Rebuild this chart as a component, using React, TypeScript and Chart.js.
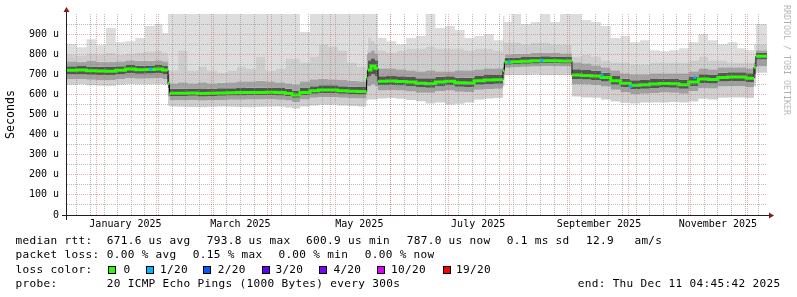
import React, { useEffect, useRef } from 'react';
import { Chart, registerables } from 'chart.js';

Chart.register(...registerables);

// ---------------- data (days since 2025-01-01, values in microseconds) ----------------
const rangeStart = -15;
const rangeEnd = 344.2;

const binStart = [
  -15, -10, -5, 0, 5, 10, 15, 20, 25, 30, 34, 36.8,
  37.6, 42, 47, 52, 57, 62, 67, 72, 77, 82, 87, 92, 97, 100.5, 104.5, 109.7, 114, 119, 124, 129, 134,
  138.7, 139.3, 141, 143,
  144.6, 149, 154, 159, 164, 169, 174, 179, 184, 189, 194, 199, 204,
  208.7, 209.5, 213, 218, 223, 228, 233, 238,
  244.1, 249, 254, 259, 264, 269, 274, 279, 284, 289, 294, 299, 304, 309, 314, 319, 324, 329, 333.5,
  337.5, 338.5,
];

const medianRtt = [
  720, 721, 718, 716, 715, 720, 726, 723, 724, 726, 721, 655,
  606, 606, 607, 605, 606, 607, 608, 609, 610, 610, 611, 609, 605, 597, 610, 618, 622, 622, 618, 616, 615,
  680, 722, 741, 730,
  665, 667, 664, 662, 655, 653, 662, 665, 658, 657, 668, 672, 673,
  718, 760, 763, 765, 767, 768, 768, 766,
  696, 694, 692, 684, 668, 655, 646, 648, 652, 654, 653, 648, 662, 676, 674, 684, 686, 686, 680,
  735, 790,
];

const smokeMax = [
  850, 835, 875, 845, 930, 860, 865, 880, 940, 950, 905, 1050,
  1050, 1050, 1050, 1050, 1050, 1050, 1050, 1050, 1050, 1050, 1050, 1050, 1050, 1050, 910, 1050, 1050, 1050, 1050, 1050, 1050,
  1050, 1050, 1050, 1050,
  880, 865, 850, 880, 890, 1000, 930, 940, 920, 880, 890, 900, 870,
  990, 960, 1050, 950, 960, 1050, 960, 1010,
  1000, 970, 960, 940, 880, 890, 860, 870, 820, 815, 820, 830, 860, 900, 870, 850, 860, 830, 820,
  850, 950,
];

const smokeHi3 = [
  800, 795, 805, 800, 810, 800, 805, 810, 815, 820, 810, 780,
  720, 820, 720, 740, 720, 710, 720, 740, 730, 790, 720, 730, 780, 780, 760, 790, 850, 840, 820, 760, 740,
  820, 880, 870, 850,
  820, 810, 820, 830, 830, 840, 830, 830, 830, 820, 830, 830, 820,
  880, 860, 860, 850, 860, 860, 850, 850,
  790, 800, 790, 770, 760, 760, 750, 750, 760, 760, 760, 760, 770, 790, 770, 770, 760, 760, 760,
  780, 850,
];

const smokeHi2 = [
  765, 763, 766, 762, 764, 765, 770, 768, 768, 770, 765, 720,
  655, 660, 655, 660, 655, 658, 660, 665, 665, 668, 665, 660, 655, 650, 665, 675, 678, 675, 672, 668, 665,
  800, 810, 820, 805,
  730, 730, 725, 720, 715, 720, 715, 715, 720, 720, 725, 730, 730,
  760, 800, 802, 804, 806, 808, 806, 805,
  760, 755, 745, 735, 720, 705, 700, 700, 705, 705, 705, 705, 715, 730, 725, 735, 735, 735, 730,
  760, 820,
];

const smokeHi1 = [
  740, 741, 739, 737, 736, 740, 746, 743, 744, 746, 741, 700,
  628, 628, 629, 627, 628, 630, 631, 632, 633, 633, 634, 632, 628, 620, 632, 640, 645, 645, 640, 638, 637,
  720, 770, 780, 770,
  690, 692, 690, 686, 680, 680, 688, 690, 684, 683, 694, 697, 698,
  735, 782, 784, 786, 788, 790, 789, 788,
  725, 722, 718, 708, 692, 678, 670, 672, 676, 678, 677, 674, 686, 700, 698, 708, 710, 710, 705,
  745, 808,
];

const smokeLo1 = [
  700, 701, 698, 696, 695, 700, 706, 703, 704, 706, 701, 630,
  592, 592, 593, 590, 592, 593, 594, 595, 596, 596, 597, 595, 591, 583, 596, 603, 607, 607, 603, 601, 600,
  650, 690, 700, 690,
  645, 647, 644, 642, 635, 633, 642, 645, 638, 637, 648, 652, 653,
  700, 748, 750, 752, 754, 756, 755, 754,
  676, 674, 672, 664, 648, 635, 626, 628, 632, 634, 633, 628, 642, 656, 654, 664, 666, 666, 660,
  700, 774,
];

const smokeLo2 = [
  675, 676, 673, 671, 670, 675, 681, 678, 679, 681, 676, 590,
  571, 571, 572, 570, 571, 572, 573, 574, 575, 575, 576, 574, 570, 562, 575, 583, 587, 587, 583, 581, 580,
  610, 640, 650, 640,
  620, 622, 619, 615, 608, 608, 617, 620, 613, 612, 623, 627, 628,
  680, 733, 735, 737, 739, 741, 740, 739,
  651, 649, 647, 639, 623, 610, 601, 603, 607, 609, 608, 603, 617, 631, 629, 639, 641, 641, 635,
  680, 740,
];

const smokeMin = [
  648, 650, 645, 644, 643, 648, 652, 650, 650, 652, 648, 545,
  540, 538, 537, 536, 538, 540, 538, 537, 536, 538, 540, 540, 535, 530, 540, 545, 548, 548, 545, 542, 540,
  570, 575, 575, 575,
  580, 582, 578, 572, 566, 555, 560, 550, 553, 560, 575, 580, 582,
  640, 695, 697, 697, 699, 697, 697, 697,
  590, 585, 583, 575, 565, 558, 555, 560, 560, 560, 562, 560, 565, 578, 575, 583, 585, 585, 582,
  640, 708,
];

// samples with 1/20 loss
const lossDays = [27.95, 211.8, 228.6, 259.5, 274.3, 307.1];
const lossRtt = [726, 761, 768, 696, 640, 685];

// axis ticks
const monthStarts = [0, 31, 59, 90, 120, 151, 181, 212, 243, 273, 304, 334];
const weekStarts = [
  -10, -3, 4, 11, 18, 25, 32, 39, 46, 53, 60, 67, 74, 81, 88, 95, 102, 109, 116, 123, 130, 137, 144,
  151, 158, 165, 172, 179, 186, 193, 200, 207, 214, 221, 228, 235, 242, 249, 256, 263, 270, 277, 284,
  291, 298, 305, 312, 319, 326, 333, 340,
];
const monthLabelDays = [15, 74, 135, 196, 258, 319];
const monthLabels = ['January 2025', 'March 2025', 'May 2025', 'July 2025', 'September 2025', 'November 2025'];
const yMajorTicks = [0, 100, 200, 300, 400, 500, 600, 700, 800, 900];
const yMajorLabels = ['0', '100 u', '200 u', '300 u', '400 u', '500 u', '600 u', '700 u', '800 u', '900 u'];
const yMinorTicks = [50, 150, 250, 350, 450, 550, 650, 750, 850, 950];

// legend
const lossColors = ['#26ff00', '#00b8ff', '#0059ff', '#5e00ff', '#7e00ff', '#dd00ff', '#ff0000'];
const lossLabels = ['0', '1/20', '2/20', '3/20', '4/20', '10/20', '19/20'];

// ---------------- layout / style ----------------
const MONO = '"DejaVu Sans Mono", monospace';
const MAJOR_GRID = 'rgba(222,79,79,0.45)';
const MINOR_GRID = 'rgba(143,143,143,0.6)';

const legendTops = [234.2, 248.2, 262.5, 276.5];
const legendItems: [number, number, string][] = [
  [0, 15.5, 'median rtt:'],
  [0, 106.7, '671.6 us avg'],
  [0, 206.7, '793.8 us max'],
  [0, 306.1, '600.9 us min'],
  [0, 406.7, '787.0 us now'],
  [0, 506.7, '0.1 ms sd'],
  [0, 586.1, '12.9'],
  [0, 634.4, 'am/s'],
  [1, 15.5, 'packet loss:'],
  [1, 106.7, '0.00 % avg'],
  [1, 192.7, '0.15 % max'],
  [1, 278.4, '0.00 % min'],
  [1, 364.7, '0.00 % now'],
  [2, 15.5, 'loss color:'],
  [3, 15.5, 'probe:'],
  [3, 106.7, '20 ICMP Echo Pings (1000 Bytes) every 300s'],
  [3, 577.7, 'end: Thu Dec 11 04:45:42 2025'],
];
const lossBoxX = [108, 146, 203, 262, 319, 377, 443];
const lossTextX = [123.4, 160.1, 217.7, 275.4, 333.4, 391.1, 456.1];

function stepSeries(vals: number[]) {
  const pts = vals.map((v, i) => ({ x: binStart[i], y: v }));
  pts.push({ x: rangeEnd, y: vals[vals.length - 1] });
  return pts;
}

function medianBlocks() {
  const pts: { x: number; y: number | null }[] = [];
  for (let i = 0; i < medianRtt.length; i++) {
    const end = i + 1 < binStart.length ? binStart[i + 1] : rangeEnd;
    pts.push({ x: binStart[i], y: medianRtt[i] });
    pts.push({ x: end, y: medianRtt[i] });
    if (i + 1 < medianRtt.length && Math.abs(medianRtt[i + 1] - medianRtt[i]) > 20) {
      pts.push({ x: end, y: null });
    }
  }
  return pts;
}

const band = (vals: number[], color: string, fill: any) => ({
  data: stepSeries(vals),
  stepped: 'before' as const,
  fill,
  backgroundColor: color,
  borderColor: 'rgba(0,0,0,0)',
  borderWidth: 0,
  pointRadius: 0,
});

const rrdAxes = {
  id: 'rrdAxes',
  afterDraw(chart: any) {
    const { ctx, chartArea: a } = chart;
    const y0 = a.bottom + 0.5;
    const x0 = a.left - 0.5;
    ctx.save();
    ctx.strokeStyle = 'rgb(31,31,31)';
    ctx.lineWidth = 1;
    ctx.beginPath();
    ctx.moveTo(a.left - 5, y0);
    ctx.lineTo(a.right + 4, y0);
    ctx.moveTo(x0, a.bottom + 5);
    ctx.lineTo(x0, a.top - 4);
    ctx.stroke();
    ctx.fillStyle = 'rgb(128,31,31)';
    ctx.beginPath();
    ctx.moveTo(a.right + 2, y0 - 3);
    ctx.lineTo(a.right + 2, y0 + 3);
    ctx.lineTo(a.right + 7, y0);
    ctx.closePath();
    ctx.fill();
    ctx.beginPath();
    ctx.moveTo(x0 - 3, a.top - 2);
    ctx.lineTo(x0 + 3, a.top - 2);
    ctx.lineTo(x0, a.top - 7);
    ctx.closePath();
    ctx.fill();
    ctx.restore();
  },
};

const gridAxis = (ticks: number[], color: string, z: number, horizontal: boolean) => ({
  type: 'linear' as const,
  position: horizontal ? ('bottom' as const) : ('left' as const),
  axis: horizontal ? 'x' : 'y',
  min: horizontal ? rangeStart : 0,
  max: horizontal ? rangeEnd : 1000,
  afterBuildTicks: (s: any) => {
    s.ticks = ticks.map((v) => ({ value: v }));
  },
  afterFit: (s: any) => {
    if (horizontal) s.height = 0;
    else s.width = 0;
  },
  grid: { color, lineWidth: 1, drawTicks: false, z },
  border: { display: false, dash: [1, 1] },
  ticks: { display: false },
});

export default function App() {
  const ref = useRef<HTMLCanvasElement>(null);

  useEffect(() => {
    if (!ref.current) return;
    const chart = new Chart(ref.current, {
      type: 'line',
      data: {
        datasets: [
          {
            data: lossDays.map((d, i) => ({ x: d, y: lossRtt[i] })),
            showLine: false,
            pointStyle: 'rect',
            pointRadius: 2.1,
            pointBackgroundColor: '#00b8ff',
            pointBorderWidth: 0,
            borderColor: '#00b8ff',
          },
          {
            data: medianBlocks(),
            borderColor: '#26ff00',
            borderWidth: 3,
            borderCapStyle: 'butt',
            pointRadius: 0,
            fill: false,
            spanGaps: false,
          },
          {
            data: stepSeries(medianRtt),
            stepped: 'before',
            borderColor: '#111111',
            borderWidth: 1,
            pointRadius: 0,
            fill: false,
          },
          band(smokeMax, '#dddddd', '+1'),
          band(smokeHi3, '#cdcdcd', '+1'),
          band(smokeHi2, '#a3a3a3', '+1'),
          band(smokeHi1, '#555555', '+1'),
          band(smokeLo1, '#a0a0a0', '+1'),
          band(smokeLo2, '#cfcfcf', '+1'),
          band(smokeMin, 'rgba(0,0,0,0)', false),
        ] as any,
      },
      options: {
        responsive: false,
        animation: false,
        devicePixelRatio: 1,
        events: [],
        layout: { padding: { left: 0, right: 30, top: 14, bottom: 62 } },
        plugins: { legend: { display: false }, tooltip: { enabled: false } },
        scales: {
          x: gridAxis(monthStarts, MAJOR_GRID, 2, true),
          xWeek: gridAxis(weekStarts, MINOR_GRID, 1, true),
          xLab: {
            type: 'linear',
            position: 'bottom',
            axis: 'x',
            min: rangeStart,
            max: rangeEnd,
            afterBuildTicks: (s: any) => {
              s.ticks = monthLabelDays.map((v) => ({ value: v }));
            },
            afterFit: (s: any) => {
              s.height = 20;
            },
            grid: { display: false, drawTicks: false },
            border: { display: false },
            ticks: {
              autoSkip: false,
              maxRotation: 0,
              padding: 3,
              color: '#000',
              font: { family: MONO, size: 10 },
              callback: (_v: any, i: number) => monthLabels[i],
            },
          },
          y: {
            type: 'linear',
            position: 'left',
            min: 0,
            max: 1000,
            afterBuildTicks: (s: any) => {
              s.ticks = yMajorTicks.map((v) => ({ value: v }));
            },
            afterFit: (s: any) => {
              s.width = 67;
            },
            grid: { color: MAJOR_GRID, lineWidth: 1, drawTicks: false, z: 2 },
            border: { display: false, dash: [1, 1] },
            ticks: {
              autoSkip: false,
              padding: 8,
              color: '#000',
              font: { family: MONO, size: 10 },
              callback: (_v: any, i: number) => yMajorLabels[i],
            },
            title: {
              display: true,
              text: 'Seconds',
              color: '#000',
              font: { family: MONO, size: 11.6 },
              padding: { top: 4, bottom: 0 },
            },
          },
          yMinor: gridAxis(yMinorTicks, MINOR_GRID, 1, false),
        } as any,
      },
      plugins: [rrdAxes],
    });
    return () => chart.destroy();
  }, []);

  const textStyle = (top: number, left: number): React.CSSProperties => ({
    position: 'absolute',
    top,
    left,
    fontFamily: MONO,
    fontSize: '11.1px',
    letterSpacing: '0.31px',
    lineHeight: '14px',
    color: '#000',
    whiteSpace: 'pre',
  });

  return (
    <div
      style={{
        position: 'absolute',
        left: 0,
        top: 0,
        width: 797,
        height: 297,
        background: '#fff',
        overflow: 'hidden',
      }}
    >
      <canvas
        ref={ref}
        width={797}
        height={297}
        style={{ position: 'absolute', left: 0, top: 0, width: 797, height: 297 }}
      />
      <div
        style={{
          position: 'absolute',
          left: 782,
          top: 5,
          width: 10,
          writingMode: 'vertical-rl',
          fontFamily: MONO,
          fontSize: '8.3px',
          lineHeight: '10px',
          color: 'rgba(0,0,0,0.3)',
          whiteSpace: 'pre',
        }}
      >
        RRDTOOL / TOBI OETIKER
      </div>
      {legendItems.map(([row, x, text], i) => (
        <div key={'l' + i} style={textStyle(legendTops[row], x)}>
          {text}
        </div>
      ))}
      {lossLabels.map((lab, i) => (
        <React.Fragment key={'c' + i}>
          <div
            style={{
              position: 'absolute',
              left: lossBoxX[i],
              top: 266,
              width: 8,
              height: 8,
              boxSizing: 'border-box',
              border: '1px solid #000',
              background: lossColors[i],
            }}
          />
          <div style={textStyle(legendTops[2], lossTextX[i])}>{lab}</div>
        </React.Fragment>
      ))}
    </div>
  );
}
